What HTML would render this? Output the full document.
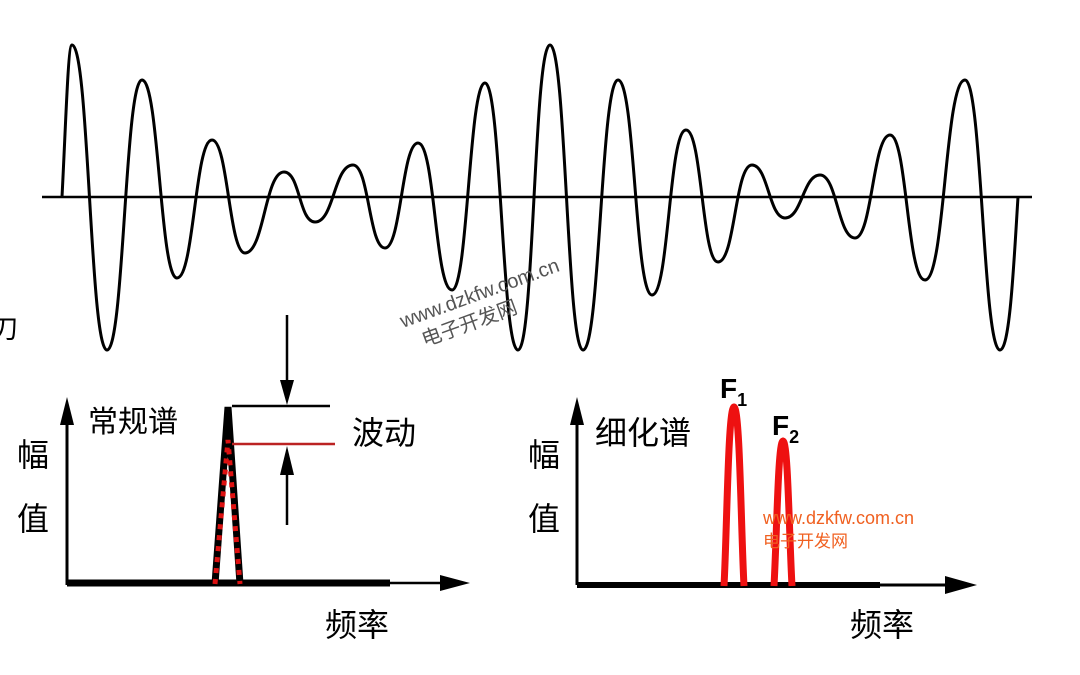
<!DOCTYPE html>
<html><head><meta charset="utf-8"><style>
body{margin:0;background:#fff;}
svg{display:block}
text{font-family:"Liberation Sans","Noto Sans CJK SC",sans-serif;}
</style></head><body>
<svg width="1080" height="675" viewBox="0 0 1080 675" xmlns="http://www.w3.org/2000/svg">
<line x1="42" y1="197" x2="1032" y2="197" stroke="#000" stroke-width="2.5"/>
<path fill="none" stroke="#000" stroke-width="3" d="M62,197 C66,120 68,45 72,45 C89,45 90,350 107,350 C124,350 125,80 142,80 C159,80 160,278 177,278 C194,278 195,140 212,140 C228,140 229,253 245,253 C264,253 265,172 284,172 C300,172 299,222 315,222 C334,222 334,165 353,165 C369,165 369,248 385,248 C401,248 402,143 418,143 C435,143 435,290 452,290 C468,290 469,83 485,83 C501,83 502,350 518,350 C534,350 534,45 550,45 C566,45 567,350 583,350 C600,350 601,80 618,80 C635,80 635,295 652,295 C669,295 669,130 686,130 C702,130 702,262 718,262 C735,262 735,165 752,165 C768,165 769,218 785,218 C802,218 803,175 820,175 C837,175 838,238 855,238 C872,238 873,135 890,135 C907,135 907,280 925,280 C945,280 945,80 965,80 C982,80 983,350 1000,350 C1010,350 1014,260 1018,197"/>
<text x="-8" y="338" font-size="26">刀</text>
<g transform="rotate(-20 480 300)" fill="#555" font-size="20">
<text x="398" y="300">www.dzkfw.com.cn</text>
<text x="412" y="325">电子开发网</text>
</g>
<!-- left chart -->
<line x1="67" y1="585" x2="67" y2="420" stroke="#000" stroke-width="3"/>
<polygon points="60,425 74,425 67,397" fill="#000"/>
<line x1="67" y1="583" x2="445" y2="583" stroke="#000" stroke-width="2.5"/>
<line x1="67" y1="583" x2="390" y2="583" stroke="#000" stroke-width="7"/>
<polygon points="440,575 440,591 470,583" fill="#000"/>
<path d="M215,584 L228,407 L240,584" fill="none" stroke="#000" stroke-width="7"/>
<path d="M215,584 L228,440 L240,584" fill="none" stroke="#d11" stroke-width="5" stroke-dasharray="5,6"/>
<line x1="232" y1="406" x2="330" y2="406" stroke="#000" stroke-width="2.5"/>
<line x1="232" y1="444" x2="335" y2="444" stroke="#b22" stroke-width="2.5"/>
<line x1="287" y1="315" x2="287" y2="385" stroke="#000" stroke-width="2.5"/>
<polygon points="280,380 294,380 287,405" fill="#000"/>
<line x1="287" y1="470" x2="287" y2="525" stroke="#000" stroke-width="2.5"/>
<polygon points="280,475 294,475 287,446" fill="#000"/>
<text x="88" y="432" font-size="30">常规谱</text>
<text x="352" y="444" font-size="32">波动</text>
<text x="17" y="466" font-size="32">幅</text>
<text x="17" y="530" font-size="32">值</text>
<text x="325" y="636" font-size="32">频率</text>
<!-- right chart -->
<line x1="577" y1="585" x2="577" y2="420" stroke="#000" stroke-width="3"/>
<polygon points="570,425 584,425 577,397" fill="#000"/>
<line x1="577" y1="585" x2="945" y2="585" stroke="#000" stroke-width="3"/>
<line x1="577" y1="585" x2="880" y2="585" stroke="#000" stroke-width="6"/>
<polygon points="945,576 945,594 977,585" fill="#000"/>
<path d="M724,586 C727,530 728,408 734,407 C740,408 741,530 744,586" fill="none" stroke="#e11" stroke-width="7"/>
<path d="M774,586 C777,530 778,442 783,441 C788,442 789,530 792,586" fill="none" stroke="#e11" stroke-width="7"/>
<text x="595" y="444" font-size="32">细化谱</text>
<text x="528" y="466" font-size="32">幅</text>
<text x="528" y="530" font-size="32">值</text>
<text x="850" y="636" font-size="32">频率</text>
<text x="720" y="398" font-size="28" font-weight="bold">F<tspan font-size="18" dy="8">1</tspan></text>
<text x="772" y="435" font-size="28" font-weight="bold">F<tspan font-size="18" dy="8">2</tspan></text>
<text x="763" y="524" font-size="18" fill="#f06020">www.dzkfw.com.cn</text>
<text x="763" y="547" font-size="17" fill="#f06020">电子开发网</text>
</svg>
</body></html>
